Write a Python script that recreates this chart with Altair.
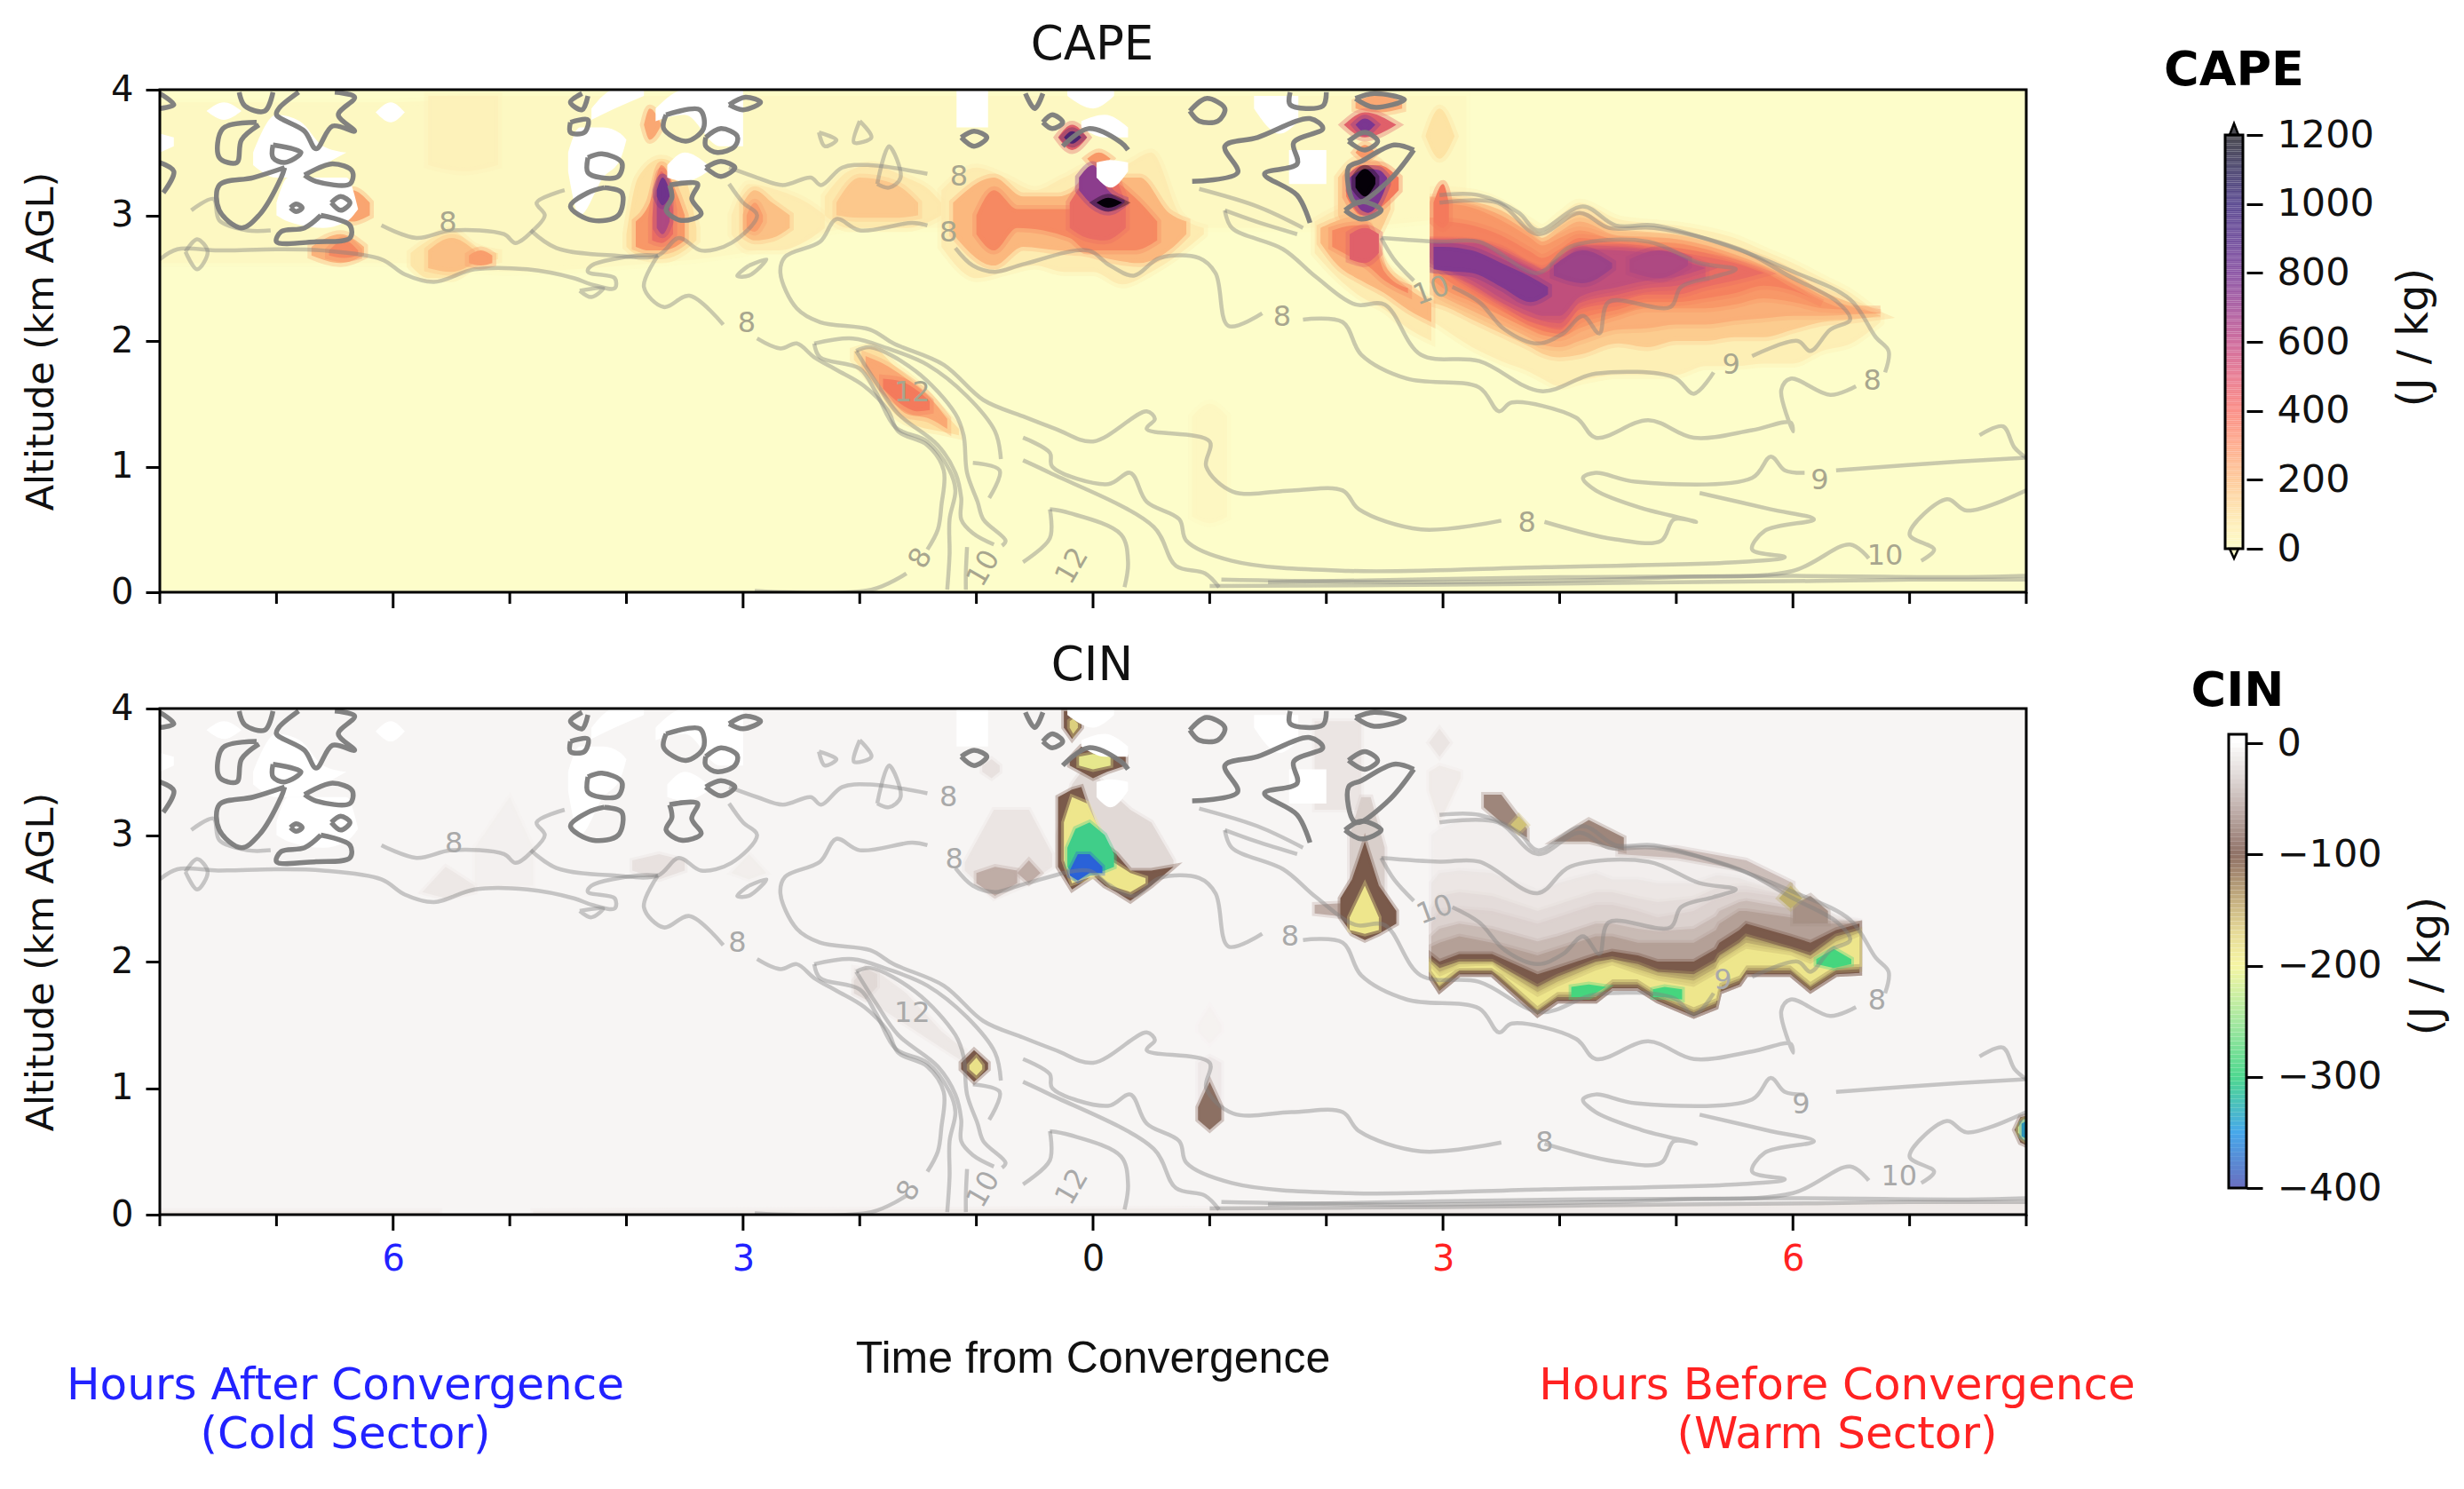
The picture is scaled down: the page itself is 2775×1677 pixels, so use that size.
import altair as alt
import numpy as np
import pandas as pd

# ---------- colour bars (stops) ----------
CAPE_STOPS = [0, 100, 200, 300, 400, 500, 600, 700, 800, 900, 1000, 1100, 1200, 1300]
CAPE_COLORS = ["#fdfdca", "#fee8b5", "#fecb9c", "#feae90", "#fb8f87", "#e97f95", "#cf6f9f",
               "#ae63a5", "#8e59a7", "#74539f", "#5f4e94", "#524c75", "#4a4a50", "#111114"]
CIN_STOPS = [-400, -350, -300, -250, -200, -170, -140, -100, -60, -30, -6, 0, 10]
CIN_COLORS = ["#6a6fc0", "#47a8ea", "#4fd88f", "#a6e8a0", "#f6f6a4", "#e6da98", "#c4ae80",
              "#8f7166", "#bfaeaa", "#e0d9d7", "#f7f5f4", "#ffffff", "#ffffff"]
# ---------- colours as they look inside the panels ----------
CAPE_FIELD = ["#fdfdca", "#fde0a0", "#fbb87e", "#f89868", "#f47a5c", "#e0606a", "#c04f7c",
              "#9c4388", "#7b3791", "#632f86", "#4a2670", "#352058", "#201040", "#050008"]
CIN_FIELD_STOPS = [-400, -350, -300, -260, -220, -195, -165, -140, -110, -78, -48, -24, -6, 0, 10]
CIN_FIELD = ["#3a3fb0", "#2a62d8", "#2fb6a8", "#45d67e", "#c8ec90", "#eee68c", "#d8cb7c", "#b2a067",
             "#7a5a4b", "#b4a097", "#dcd2cf", "#ece6e4", "#f7f5f4", "#ffffff", "#ffffff"]

# ---------- CAPE bands: (value, hours, low km, high km) ----------
MX = [2.92, 3.0, 3.25, 3.5, 3.75, 3.85, 4.0, 4.17, 4.5, 4.75, 5.0, 5.25, 5.5, 5.75, 6.0, 6.25, 6.5, 6.75]
CAPE_BANDS = [
    (18, [-8, -7, -6, -5, -4, -3, -2, -1, 0, 1, 2, 3.2],
     [2.62, 2.62, 2.62, 2.55, 2.6, 2.7, 2.9, 2.9, 2.9, 2.9, 2.9, 3.0],
     [3.9, 3.9, 3.9, 3.95, 3.95, 3.95, 3.95, 3.95, 3.95, 3.95, 3.95, 3.95]),
    (38, [-5.7, -5.4, -5.1], [3.4, 3.35, 3.4], [3.95, 3.95, 3.95]),
    (20, [0.85, 1.0, 1.15], [0.6, 0.55, 0.6], [1.4, 1.5, 1.4]),
    (50, MX,
     [2.15, 2.1, 1.95, 1.84, 1.75, 1.7, 1.64, 1.68, 1.73, 1.73, 1.73, 1.8, 1.8, 1.82, 1.82, 1.92, 1.98, 2.15],
     [3.2, 3.2, 3.18, 3.1, 2.95, 2.9, 3.0, 3.1, 2.97, 2.94, 2.92, 2.88, 2.82, 2.72, 2.62, 2.5, 2.38, 2.2]),
    (150, MX,
     [2.3, 2.28, 2.17, 2.06, 1.95, 1.9, 1.87, 1.89, 1.98, 1.95, 2.0, 2.0, 2.03, 2.03, 2.09, 2.15, 2.17, 2.2],
     [3.14, 3.14, 3.11, 3.04, 2.88, 2.82, 2.92, 3.03, 2.89, 2.87, 2.85, 2.8, 2.73, 2.65, 2.54, 2.4, 2.3, 2.2]),
    (225, MX,
     [2.39, 2.35, 2.24, 2.13, 2.02, 1.97, 1.95, 2.0, 2.09, 2.1, 2.13, 2.13, 2.16, 2.18, 2.2, 2.2, 2.21, 2.22],
     [3.12, 3.12, 3.08, 3.0, 2.85, 2.79, 2.87, 2.95, 2.84, 2.83, 2.81, 2.76, 2.69, 2.6, 2.49, 2.36, 2.27, 2.22]),
    (300, MX,
     [2.48, 2.42, 2.31, 2.2, 2.09, 2.05, 2.03, 2.1, 2.2, 2.26, 2.26, 2.26, 2.29, 2.34, 2.31, 2.26, 2.25, 2.25],
     [3.11, 3.1, 3.06, 2.96, 2.82, 2.76, 2.82, 2.88, 2.8, 2.79, 2.78, 2.73, 2.65, 2.56, 2.45, 2.32, 2.25, 2.25]),
    (375, MX[:16],
     [2.58, 2.51, 2.37, 2.24, 2.12, 2.08, 2.06, 2.17, 2.25, 2.31, 2.31, 2.34, 2.38, 2.44, 2.4, 2.3],
     [2.95, 2.95, 2.92, 2.84, 2.71, 2.66, 2.73, 2.82, 2.78, 2.76, 2.74, 2.7, 2.63, 2.55, 2.42, 2.3]),
    (450, MX[:14],
     [2.68, 2.6, 2.43, 2.29, 2.15, 2.12, 2.09, 2.25, 2.31, 2.37, 2.37, 2.43, 2.48, 2.54],
     [2.8, 2.8, 2.79, 2.73, 2.6, 2.57, 2.65, 2.76, 2.76, 2.74, 2.71, 2.67, 2.62, 2.54]),
    (525, MX[:12],
     [2.64, 2.59, 2.45, 2.31, 2.19, 2.16, 2.14, 2.3, 2.37, 2.42, 2.44, 2.5],
     [2.79, 2.79, 2.78, 2.71, 2.59, 2.55, 2.63, 2.74, 2.74, 2.72, 2.68, 2.6]),
    (600, MX[:12],
     [2.61, 2.58, 2.48, 2.34, 2.23, 2.2, 2.2, 2.35, 2.43, 2.48, 2.51, 2.58],
     [2.78, 2.78, 2.78, 2.69, 2.58, 2.54, 2.62, 2.73, 2.72, 2.7, 2.65, 2.58]),
    (780, [2.92, 3.0, 3.25, 3.5, 3.75, 3.9],
     [2.57, 2.56, 2.54, 2.43, 2.31, 2.37], [2.75, 2.75, 2.72, 2.62, 2.51, 2.43]),
    (700, [3.95, 4.2, 4.45], [2.52, 2.46, 2.58], [2.6, 2.72, 2.62]),
    (650, [4.6, 4.85, 5.1], [2.55, 2.5, 2.6], [2.65, 2.72, 2.65]),
    # lobe left of the cliff
    (60, [1.9, 2.1, 2.3, 2.5, 2.7, 2.9], [2.7, 2.5, 2.35, 2.25, 2.1, 2.0], [2.95, 3.05, 3.1, 2.62, 2.48, 2.31]),
    (200, [1.95, 2.1, 2.3, 2.5, 2.7, 2.9], [2.78, 2.6, 2.48, 2.38, 2.25, 2.15], [2.9, 2.96, 3.0, 2.6, 2.42, 2.3]),
    (350, [2.05, 2.25, 2.35, 2.5, 2.7], [2.75, 2.65, 2.6, 2.48, 2.38], [2.88, 2.92, 2.92, 2.55, 2.42]),
    (500, [2.2, 2.33, 2.45], [2.65, 2.62, 2.7], [2.85, 2.9, 2.85]),
    (150, [2.1, 2.25, 2.33, 2.42, 2.55], [3.0, 2.75, 2.7, 2.8, 3.05], [3.3, 3.44, 3.45, 3.44, 3.3]),
    (400, [2.17, 2.3, 2.36, 2.45, 2.62], [3.15, 3.0, 3.0, 3.05, 3.2], [3.3, 3.4, 3.4, 3.4, 3.3]),
    (800, [2.2, 2.3, 2.36, 2.45, 2.52], [3.2, 3.04, 3.02, 3.1, 3.25], [3.3, 3.36, 3.37, 3.36, 3.3]),
    (1300, [2.25, 2.33, 2.42], [3.22, 3.15, 3.25], [3.3, 3.37, 3.3]),
    (500, [2.15, 2.33, 2.6], [3.72, 3.62, 3.72], [3.72, 3.82, 3.72]),
    (800, [2.25, 2.33, 2.42], [3.72, 3.66, 3.72], [3.72, 3.77, 3.72]),
    (300, [2.25, 2.33, 2.42], [3.5, 3.45, 3.5], [3.5, 3.56, 3.5]),
    (250, [2.25, 2.45, 2.65], [3.85, 3.82, 3.85], [3.9, 3.96, 3.9]),
    (90, [2.85, 2.97, 3.1], [3.63, 3.45, 3.63], [3.63, 3.85, 3.63]),
    (400, [2.92, 3.0, 3.05], [2.95, 2.9, 2.95], [3.1, 3.25, 3.1]),
    # blob at convergence
    (60, [-1.3, -1, -0.75, -0.5, -0.25, 0, 0.25, 0.5, 0.75, 0.95],
     [2.75, 2.5, 2.55, 2.6, 2.55, 2.55, 2.45, 2.55, 2.7, 2.85],
     [3.2, 3.38, 3.3, 3.2, 3.3, 3.4, 3.4, 3.5, 3.0, 2.9]),
    (200, [-1.2, -0.85, -0.6, -0.3, -0.05, 0.15, 0.4, 0.65, 0.8],
     [2.85, 2.6, 2.75, 2.72, 2.7, 2.65, 2.62, 2.72, 2.85],
     [3.1, 3.3, 3.15, 3.15, 3.25, 3.3, 3.3, 3.02, 2.95]),
    (350, [-1, -0.85, -0.65, -0.2, -0.05, 0.1, 0.35, 0.55],
     [2.85, 2.72, 2.9, 2.82, 2.72, 2.72, 2.72, 2.8],
     [3.0, 3.2, 3.05, 3.05, 3.2, 3.3, 3.15, 2.95]),
    (450, [-0.2, -0.05, 0.1, 0.28], [2.9, 2.82, 2.8, 2.9], [3.1, 3.3, 3.4, 3.1]),
    (750, [-0.12, 0, 0.13, 0.27], [3.2, 3.08, 3.03, 3.1], [3.3, 3.4, 3.2, 3.12]),
    (1300, [0.03, 0.13, 0.25], [3.1, 3.06, 3.1], [3.1, 3.14, 3.1]),
    (500, [-0.3, -0.18, -0.05], [3.62, 3.52, 3.62], [3.62, 3.72, 3.62]),
    (1000, [-0.25, -0.18, -0.1], [3.62, 3.57, 3.62], [3.62, 3.67, 3.62]),
    (300, [-0.05, 0.05, 0.15], [3.45, 3.38, 3.45], [3.45, 3.5, 3.45]),
    # column near 3.7 h after
    (100, [-4.0, -3.9, -3.7, -3.5, -3.4], [2.75, 2.68, 2.65, 2.72, 2.8], [2.85, 3.3, 3.45, 3.3, 2.9]),
    (300, [-3.92, -3.8, -3.7, -3.58, -3.5], [2.75, 2.72, 2.72, 2.75, 2.8], [2.95, 3.1, 3.4, 3.2, 3.0]),
    (450, [-3.78, -3.7, -3.6], [2.8, 2.78, 2.85], [2.98, 3.35, 3.05]),
    (650, [-3.74, -3.69, -3.63], [2.9, 2.85, 2.95], [3.1, 3.3, 3.1]),
    (850, [-3.74, -3.69, -3.63], [3.15, 3.08, 3.15], [3.2, 3.3, 3.2]),
    (250, [-3.85, -3.8, -3.7], [3.72, 3.6, 3.72], [3.72, 3.85, 3.72]),
    # weaker patches
    (60, [-3.1, -2.95, -2.7, -2.45, -2.3], [2.85, 2.72, 2.72, 2.8, 2.9], [3.0, 3.25, 3.2, 3.1, 3.0]),
    (180, [-3.0, -2.9, -2.75, -2.6], [2.85, 2.8, 2.82, 2.9], [3.1, 3.2, 3.1, 3.0]),
    (280, [-2.97, -2.9, -2.83], [2.9, 2.87, 2.95], [3.0, 3.1, 3.0]),
    (70, [-2.3, -2.1, -1.9, -1.6, -1.4, -1.3], [3.0, 2.9, 2.9, 2.9, 2.95, 3.0], [3.15, 3.35, 3.4, 3.3, 3.2, 3.1]),
    (160, [-2.2, -2, -1.7, -1.5], [3.0, 2.98, 2.98, 3.0], [3.1, 3.3, 3.25, 3.1]),
    (80, [-5.85, -5.7, -5.5, -5.3, -5.1], [2.6, 2.5, 2.5, 2.6, 2.65], [2.7, 2.8, 2.88, 2.75, 2.7]),
    (180, [-5.7, -5.5, -5.3], [2.58, 2.55, 2.62], [2.72, 2.82, 2.72]),
    (280, [-5.35, -5.25, -5.15], [2.62, 2.6, 2.62], [2.68, 2.72, 2.68]),
    (220, [-6.7, -6.45, -6.25], [2.68, 2.62, 2.68], [2.75, 2.85, 2.75]),
    (350, [-6.55, -6.42, -6.3], [2.68, 2.66, 2.68], [2.72, 2.8, 2.72]),
    (260, [-6.45, -6.35, -6.2], [3.0, 2.95, 3.0], [3.1, 3.2, 3.1]),
    # ridge
    (100, [-2.05, -1.9, -1.7, -1.5, -1.3, -1.15], [1.85, 1.68, 1.42, 1.32, 1.28, 1.25], [1.92, 1.95, 1.8, 1.65, 1.45, 1.3]),
    (250, [-1.95, -1.8, -1.6, -1.4, -1.25], [1.8, 1.62, 1.42, 1.38, 1.3], [1.88, 1.82, 1.7, 1.55, 1.38]),
    (400, [-1.8, -1.65, -1.5, -1.4], [1.62, 1.5, 1.44, 1.45], [1.7, 1.68, 1.6, 1.52]),
]

# ---------- CIN bands ----------
BX = [2.9, 2.97, 3.14, 3.42, 3.81, 3.98, 4.31, 4.45, 4.67, 4.84, 5.15, 5.34, 5.37, 5.54, 5.6, 5.98, 6.15, 6.37, 6.57]
BL = [1.87, 1.77, 1.9, 1.9, 1.58, 1.69, 1.69, 1.79, 1.79, 1.69, 1.57, 1.64, 1.76, 1.82, 1.9, 1.9, 1.77, 1.9, 1.91]
BL2 = [1.9, 1.8, 1.93, 1.93, 1.61, 1.72, 1.72, 1.82, 1.82, 1.72, 1.6, 1.67, 1.79, 1.85, 1.93, 1.93, 1.8, 1.93, 1.94]
BL3 = [1.93, 1.84, 1.96, 1.97, 1.65, 1.76, 1.76, 1.86, 1.86, 1.76, 1.64, 1.71, 1.83, 1.89, 1.97, 1.97, 1.84, 1.97, 1.98]
CIN_BANDS = [
    (-14, BX, BL, [3.0, 3.05, 3.12, 3.12, 2.85, 2.98, 3.0, 2.9, 2.9, 2.9, 2.86, 2.82, 2.82, 2.78, 2.75, 2.58, 2.48, 2.37, 2.32]),
    (-24, BX, BL, [2.62, 2.7, 2.72, 2.7, 2.55, 2.62, 2.7, 2.65, 2.65, 2.62, 2.62, 2.68, 2.68, 2.66, 2.64, 2.54, 2.45, 2.35, 2.32]),
    (-36, BX, BL, [2.42, 2.52, 2.55, 2.52, 2.4, 2.45, 2.55, 2.55, 2.5, 2.47, 2.5, 2.58, 2.58, 2.6, 2.6, 2.52, 2.44, 2.34, 2.31]),
    (-48, BX, BL, [2.3, 2.4, 2.42, 2.4, 2.3, 2.35, 2.45, 2.45, 2.4, 2.35, 2.4, 2.5, 2.5, 2.55, 2.55, 2.5, 2.42, 2.32, 2.3]),
    (-62, BX, BL, [2.2, 2.26, 2.3, 2.26, 2.16, 2.2, 2.3, 2.3, 2.26, 2.24, 2.26, 2.36, 2.4, 2.47, 2.48, 2.42, 2.36, 2.31, 2.3]),
    (-78, BX, BL, [2.12, 2.15, 2.2, 2.15, 2.05, 2.1, 2.2, 2.2, 2.15, 2.15, 2.15, 2.25, 2.3, 2.4, 2.4, 2.35, 2.3, 2.3, 2.3]),
    (-110, BX, BL, [2.05, 2.0, 2.06, 2.06, 1.9, 1.95, 2.05, 2.08, 2.05, 2.0, 2.0, 2.1, 2.15, 2.25, 2.3, 2.2, 2.15, 2.25, 2.3]),
    (-140, BX, BL2, [2.0, 1.95, 2.0, 2.0, 1.8, 1.88, 2.0, 2.02, 1.98, 1.92, 1.9, 2.0, 2.05, 2.15, 2.2, 2.1, 2.05, 2.2, 2.25]),
    (-165, BX, BL3, [1.98, 1.92, 1.98, 1.98, 1.76, 1.84, 1.97, 2.0, 1.94, 1.89, 1.85, 1.95, 2.01, 2.11, 2.15, 2.08, 2.02, 2.16, 2.23]),
    (-195, BX, BL3, [1.95, 1.88, 1.95, 1.95, 1.72, 1.8, 1.93, 1.97, 1.9, 1.85, 1.8, 1.9, 1.97, 2.07, 2.1, 2.05, 1.98, 2.12, 2.2]),
    (-260, [4.1, 4.25, 4.4], [1.72, 1.72, 1.8], [1.8, 1.82, 1.8]),
    (-260, [4.8, 4.9, 5.05], [1.72, 1.72, 1.7], [1.78, 1.8, 1.78]),
    (-260, [6.2, 6.35, 6.5], [1.98, 1.95, 1.98], [2.02, 2.1, 2.02]),
    (-90, [3.35, 3.5, 3.72], [3.22, 3.1, 2.98], [3.32, 3.32, 3.05]),
    (-160, [3.58, 3.65, 3.72], [3.08, 3.02, 3.08], [3.08, 3.15, 3.08]),
    (-90, [3.95, 4.25, 4.55], [2.95, 2.95, 2.88], [2.95, 3.12, 2.98]),
    (-60, [4.5, 5, 5.6, 6], [2.85, 2.82, 2.72, 2.5], [2.9, 2.9, 2.8, 2.62]),
    (-150, [5.88, 5.98, 6.08], [2.5, 2.42, 2.5], [2.5, 2.6, 2.5]),
    (-85, [6, 6.15, 6.3], [2.3, 2.3, 2.3], [2.45, 2.52, 2.4]),
    (-50, [2.2, 2.3, 2.38, 2.5], [2.3, 2.2, 2.2, 2.3], [3.0, 3.3, 3.3, 2.9]),
    (-110, [2.12, 2.22, 2.33, 2.45, 2.6], [2.35, 2.22, 2.17, 2.22, 2.3], [2.5, 2.65, 2.95, 2.6, 2.4]),
    (-195, [2.2, 2.33, 2.45], [2.25, 2.22, 2.25], [2.35, 2.6, 2.35]),
    (-70, [1.9, 2.1, 2.25], [2.38, 2.36, 2.36], [2.45, 2.46, 2.46]),
    (-40, [-0.3, -0.18, -0.1, 0, 0.1, 0.2, 0.32, 0.5, 0.69],
     [2.75, 2.57, 2.62, 2.68, 2.6, 2.55, 2.48, 2.6, 2.75], [3.0, 3.4, 3.5, 3.5, 3.4, 3.3, 3.2, 3.1, 2.8]),
    (-110, [-0.3, -0.18, -0.1, 0, 0.1, 0.2, 0.32, 0.5, 0.69],
     [2.75, 2.57, 2.62, 2.68, 2.6, 2.55, 2.48, 2.6, 2.75], [3.3, 3.36, 3.38, 3.1, 2.92, 2.85, 2.72, 2.72, 2.75]),
    (-195, [-0.25, -0.18, -0.05, 0.05, 0.15, 0.32, 0.45], [2.8, 2.62, 2.66, 2.68, 2.6, 2.55, 2.62], [3.1, 3.3, 3.25, 3.05, 2.8, 2.7, 2.66]),
    (-270, [-0.22, -0.15, -0.03, 0.1, 0.18], [2.75, 2.66, 2.7, 2.72, 2.75], [2.9, 3.05, 3.1, 3.0, 2.85]),
    (-350, [-0.2, -0.13, -0.03, 0.08], [2.68, 2.64, 2.7, 2.7], [2.72, 2.85, 2.85, 2.75]),
    (-110, [-0.2, -0.1, 0, 0.12, 0.28], [3.55, 3.5, 3.45, 3.5, 3.55], [3.6, 3.7, 3.72, 3.7, 3.62]),
    (-200, [-0.12, 0, 0.15], [3.55, 3.52, 3.55], [3.62, 3.64, 3.62]),
    (-110, [-0.25, -0.18, -0.1], [3.85, 3.76, 3.85], [3.98, 3.98, 3.9]),
    (-170, [-0.2, -0.17, -0.13], [3.85, 3.8, 3.85], [3.9, 3.92, 3.88]),
    (-25, [-1.1, -0.85, -0.55, -0.35], [2.72, 2.5, 2.62, 2.75], [2.78, 3.2, 3.2, 2.85]),
    (-70, [-1, -0.84, -0.65], [2.62, 2.52, 2.62], [2.7, 2.75, 2.72]),
    (-70, [-0.65, -0.55, -0.45], [2.7, 2.62, 2.7], [2.7, 2.8, 2.7]),
    (-110, [-1.13, -1.02, -0.9], [1.15, 1.05, 1.15], [1.2, 1.3, 1.2]),
    (-190, [-1.06, -1.0, -0.95], [1.15, 1.1, 1.15], [1.18, 1.24, 1.18]),
    (-22, [-2.05, -1.85, -1.6, -1.3, -1.1], [1.8, 1.65, 1.5, 1.32, 1.2], [1.95, 1.92, 1.75, 1.45, 1.3]),
    (-40, [-2.05, -1.95, -1.85], [1.75, 1.7, 1.8], [1.85, 1.95, 1.9]),
    (-20, [0.9, 1, 1.1], [0.75, 0.67, 0.75], [1.2, 1.25, 1.2]),
    (-100, [0.9, 1, 1.1], [0.75, 0.67, 0.75], [0.85, 1.05, 0.85]),
    (-10, [0.9, 1, 1.1], [1.45, 1.35, 1.45], [1.5, 1.65, 1.5]),
    (-110, [7.9, 7.95, 8], [0.67, 0.57, 0.55], [0.67, 0.77, 0.78]),
    (-210, [7.93, 7.97, 8], [0.65, 0.6, 0.58], [0.69, 0.75, 0.76]),
    (-320, [7.96, 8], [0.62, 0.6], [0.72, 0.74]),
    (-30, [-3.95, -3.72, -3.5], [2.72, 2.65, 2.72], [2.8, 2.85, 2.8]),
    (-22, [-5.75, -5.55, -5.3], [2.55, 2.5, 2.55], [2.55, 2.75, 2.6]),
    (-15, [-3.1, -2.95, -2.8], [2.7, 2.65, 2.7], [2.7, 2.85, 2.7]),
    (-12, [-5.3, -5, -4.8], [2.6, 2.6, 2.6], [2.9, 3.3, 2.9]),
    (-30, [-0.95, -0.87, -0.8], [3.5, 3.45, 3.5], [3.55, 3.6, 3.55]),
    (-25, [1.9, 2.15, 2.3], [3.2, 3.2, 3.2], [3.9, 3.9, 3.9]),
    (-25, [2.88, 2.97, 3.06], [3.73, 3.62, 3.73], [3.73, 3.84, 3.73]),
    (-18, [2.88, 2.97, 3.15], [3.35, 3.1, 3.45], [3.5, 3.55, 3.5]),
    (-18, [-8, -5.6], [0, 0], [0.03, 0.03]),
    (-18, [-4.8, 1, 8], [0, 0, 0], [0.03, 0.05, 0.1]),
]

# ---------- missing-data patches (white in both panels) ----------
WHITE_BANDS = [
    ([-7.2, -7, -6.8, -6.6, -6.4], [3.4, 3.3, 3.3, 3.4, 3.5], [3.5, 3.8, 3.75, 3.55, 3.5]),
    ([-7, -6.9, -6.6, -6.4, -6.3], [3.0, 2.95, 2.9, 2.95, 3.05], [3.1, 3.3, 3.3, 3.3, 3.05]),
    ([-7.6, -7.45, -7.3], [3.83, 3.76, 3.83], [3.83, 3.9, 3.83]),
    ([-8, -7.88], [3.5, 3.55], [3.65, 3.62]),
    ([-6.15, -6.02, -5.9], [3.82, 3.74, 3.82], [3.82, 3.9, 3.82]),
    ([-4.5, -4.4, -4.2, -4.05, -4.0], [3.35, 3.0, 3.3, 3.45, 3.6], [3.5, 3.7, 3.7, 3.65, 3.6]),
    ([-4.3, -4.1, -3.85], [3.76, 3.85, 3.95], [3.85, 4, 4]),
    ([-3.75, -3.5, -3.2, -3.0], [3.75, 3.8, 3.55, 3.55], [3.85, 4, 4, 4]),
    ([-3.65, -3.5, -3.3], [3.3, 3.27, 3.35], [3.4, 3.5, 3.4]),
    ([-1.17, -0.9], [3.7, 3.7], [4, 4]),
    ([-0.22, 0, 0.18], [3.95, 3.85, 3.95], [4, 4, 4]),
    ([-0.1, 0.1, 0.3], [3.7, 3.62, 3.62], [3.75, 3.8, 3.7]),
    ([0.03, 0.15, 0.3], [3.3, 3.22, 3.35], [3.42, 3.44, 3.42]),
    ([1.38, 1.6, 1.76], [3.85, 3.65, 3.75], [3.95, 3.95, 3.95]),
    ([1.68, 2.0], [3.25, 3.25], [3.52, 3.52]),
]

# ---------- contour lines (hours, km) ----------
LIGHT_LINES = [
    [(-8, 2.65), (-7.85, 2.73), (-7.5, 2.72), (-7, 2.73), (-6.6, 2.72), (-6.1, 2.65), (-5.9, 2.53), (-5.65, 2.47),
     (-5.3, 2.57), (-4.85, 2.57), (-4.45, 2.5), (-4.3, 2.45), (-4.1, 2.42), (-4.1, 2.5), (-4.33, 2.55), (-4.3, 2.6),
     (-3.9, 2.68), (-3.73, 2.68)],
    [(-6.1, 2.92), (-5.8, 2.82), (-5.5, 2.88), (-5.05, 2.85), (-4.95, 2.78), (-4.8, 2.88), (-4.7, 3.0), (-4.77, 3.1), (-4.53, 3.2)],
    [(-4.82, 2.88), (-4.6, 2.74), (-4.1, 2.68), (-3.73, 2.68), (-3.55, 2.82), (-3.36, 2.72), (-3.1, 2.78), (-2.88, 3.0), (-3.0, 3.1), (-3.12, 3.25)],
    [(-3.12, 3.38), (-2.88, 3.3), (-2.66, 3.24), (-2.42, 3.3), (-2.33, 3.24), (-2.15, 3.38), (-1.91, 3.4), (-1.42, 3.33)],
    [(-3.73, 2.68), (-3.85, 2.43), (-3.68, 2.27), (-3.46, 2.36), (-3.17, 2.13)],
    [(-2.88, 2.02), (-2.68, 1.94), (-2.54, 1.98), (-2.39, 1.87), (-2.2, 1.77), (-1.96, 1.64), (-1.76, 1.45), (-1.67, 1.28),
     (-1.42, 1.17), (-1.28, 0.97), (-1.3, 0.69), (-1.33, 0.5), (-1.42, 0.34)],
    [(-1.6, 0.15), (-1.9, 0.02), (-2.9, 0.01)],
    [(-1.42, 2.92), (-1.55, 2.94), (-2.0, 2.88), (-2.2, 2.97), (-2.34, 2.79), (-2.64, 2.67), (-2.68, 2.54), (-2.54, 2.26),
     (-2.34, 2.15), (-1.91, 2.09), (-1.71, 1.98), (-1.28, 1.81), (-0.94, 1.53), (-0.6, 1.4), (-0.32, 1.3), (0, 1.2),
     (0.46, 1.44), (0.53, 1.38), (0.46, 1.3), (1.0, 1.2), (0.97, 1.0), (1.2, 0.8), (1.7, 0.81), (2.14, 0.81), (2.28, 0.66),
     (2.81, 0.5), (3.5, 0.57)],
    [(3.87, 0.56), (4.48, 0.42), (4.87, 0.41), (4.98, 0.58), (5.17, 0.56), (4.7, 0.67), (4.31, 0.81), (4.2, 0.91), (4.31, 0.95),
     (4.65, 0.88), (5.65, 0.91), (5.81, 1.08), (5.93, 0.97), (6.1, 0.95)],
    [(6.37, 0.97), (7.43, 1.04), (8, 1.07)],
    [(-1.18, 2.74), (-1.03, 2.6), (-0.84, 2.55), (-0.6, 2.61), (-0.04, 2.72), (0.13, 2.61), (0.35, 2.52), (0.57, 2.66),
     (0.91, 2.66), (1.05, 2.54), (1.16, 2.12), (1.45, 2.22)],
    [(1.8, 2.17), (2.14, 2.15), (2.3, 1.89), (2.69, 1.7), (3.31, 1.63), (3.48, 1.44), (3.59, 1.51), (4.14, 1.39), (4.31, 1.23),
     (4.76, 1.37), (5.15, 1.23), (5.65, 1.29), (5.98, 1.35), (6.0, 1.28), (5.9, 1.61), (5.98, 1.7), (6.32, 1.57), (6.54, 1.64)],
    [(1.13, 3.04), (1.19, 2.9), (1.63, 2.73), (1.91, 2.51), (2.25, 2.29), (2.5, 2.29), (2.81, 1.89), (3.31, 1.84), (3.84, 1.6),
     (4.31, 1.74), (4.98, 1.71), (5.15, 1.58), (5.32, 1.75)],
    [(5.65, 1.88), (6.04, 2.0), (6.15, 1.92), (6.32, 2.09), (6.49, 2.17), (6.38, 2.31), (5.98, 2.51), (5.54, 2.73), (4.81, 2.9),
     (4.42, 2.9), (4.17, 3.02), (3.81, 2.85), (3.47, 3.1), (2.97, 3.1)],
    [(2.97, 3.16), (3.31, 3.16), (3.65, 3.02), (3.81, 2.88), (4.2, 3.07), (4.48, 2.92), (4.81, 2.92), (5.43, 2.76), (5.98, 2.56),
     (6.49, 2.33), (6.71, 2.03), (6.82, 1.92), (6.79, 1.75)],
    [(2.47, 2.82), (2.97, 2.79), (3.31, 2.79), (3.81, 2.54), (4.09, 2.75), (4.76, 2.79), (5.2, 2.62), (5.51, 2.57), (5.32, 2.51),
     (5.04, 2.43), (4.95, 2.27), (4.42, 2.31), (4.34, 2.06), (4.2, 2.2), (4.03, 2.06), (3.81, 1.98), (3.53, 2.09), (3.31, 2.31),
     (3.08, 2.43)],
    [(2.75, 2.48), (2.58, 2.65), (2.47, 2.82)],
    [(-2.39, 1.98), (-2.06, 2.02), (-1.76, 1.94), (-1.42, 1.81), (-1.08, 1.56), (-0.84, 1.28), (-0.79, 1.06)],
    [(-1.03, 1.03), (-0.8, 0.97), (-0.89, 0.75)],
    [(-2.39, 1.98), (-2.34, 1.87), (-2.0, 1.78), (-1.86, 1.59), (-1.69, 1.31), (-1.42, 1.2), (-1.23, 0.97), (-1.18, 0.81),
     (-1.23, 0.58), (-1.23, 0.3), (-1.25, 0.02)],
    [(-2.03, 1.92), (-1.91, 1.95), (-1.52, 1.76), (-1.18, 1.42), (-1.11, 1.25), (-1.08, 0.95), (-0.99, 0.72), (-0.94, 0.58),
     (-0.75, 0.41), (-0.78, 0.37)],
    [(-1.08, 0.36), (-1.09, 0.16), (-1.09, 0.02)],
    [(-2.03, 1.92), (-1.86, 1.67), (-1.67, 1.42), (-1.33, 1.17), (-1.18, 0.95), (-1.13, 0.75), (-1.13, 0.58), (-1.03, 0.47), (-0.85, 0.38)],
    [(-0.6, 1.23), (-0.37, 1.11), (-0.35, 1.0), (0.13, 0.86), (0.32, 0.95), (0.46, 0.72), (0.74, 0.58), (0.8, 0.41), (1.19, 0.25),
     (2.19, 0.17), (3.87, 0.2), (5.54, 0.24), (5.93, 0.28), (5.65, 0.34), (5.76, 0.49), (6.18, 0.58), (5.81, 0.66), (5.2, 0.79)],
    [(-0.37, 0.66), (-0.2, 0.63), (0.24, 0.46), (0.3, 0.24), (0.27, 0.04)],
    [(-0.37, 0.66), (-0.37, 0.43), (-0.6, 0.24)],
    [(-0.6, 1.05), (-0.37, 0.95), (0.52, 0.52), (0.71, 0.21), (0.96, 0.15), (1.08, 0.04)],
    [(1.1, 0.1), (3, 0.08), (5, 0.12), (6, 0.17), (6.49, 0.38), (6.65, 0.27)],
    [(7.1, 0.25), (7.21, 0.34), (7, 0.46), (7.32, 0.74), (7.49, 0.65), (8, 0.81)],
    [(1, 0.05), (3, 0.06), (5, 0.08), (6.2, 0.09), (7, 0.1), (8, 0.1)],
    [(1.5, 0.08), (4, 0.12), (6, 0.13), (7.5, 0.12), (8, 0.13)],
    [(7.6, 1.25), (7.8, 1.32), (7.9, 1.15), (8, 1.07)],
    [(-7.73, 3.04), (-7.54, 3.13), (-7.49, 2.96), (-7.25, 2.88), (-7.05, 2.88)],
    [(-7.78, 2.71), (-7.68, 2.81), (-7.59, 2.71), (-7.68, 2.57), (-7.78, 2.71)],
    [(0.91, 3.21), (1.41, 3.07), (1.8, 2.9)],
    [(1.13, 3.04), (1.4, 2.95), (1.75, 2.85)],
    [(-2.35, 3.66), (-2.2, 3.6), (-2.3, 3.55), (-2.35, 3.66)],
    [(-2.0, 3.75), (-1.9, 3.62), (-2.05, 3.58), (-2.0, 3.75)],
    [(-1.85, 3.25), (-1.75, 3.55), (-1.65, 3.3), (-1.75, 3.22), (-1.85, 3.25)],
    [(-4.4, 2.4), (-4.2, 2.42), (-4.3, 2.35), (-4.4, 2.4)],
    [(-2.95, 2.6), (-2.8, 2.65), (-2.95, 2.52), (-3.05, 2.52), (-2.95, 2.6)],
]
DARK_LINES = [
    [(-7.32, 3.98), (-7.27, 3.87), (-7.1, 3.83), (-7.03, 3.98)],
    [(-6.81, 3.98), (-6.98, 3.85), (-7, 3.8), (-6.76, 3.67), (-6.66, 3.53), (-6.52, 3.71), (-6.33, 3.67), (-6.47, 3.8), (-6.33, 3.94), (-6.5, 3.98)],
    [(-7.17, 3.74), (-7.46, 3.69), (-7.49, 3.46), (-7.34, 3.42), (-7.3, 3.6), (-7.15, 3.72)],
    [(-7.03, 3.56), (-6.79, 3.5), (-6.93, 3.42), (-7.03, 3.46), (-7.03, 3.56)],
    [(-6.93, 3.38), (-7.2, 3.3), (-7.49, 3.24), (-7.49, 3.04), (-7.3, 2.9), (-7.15, 3.0), (-6.96, 3.3), (-6.93, 3.38)],
    [(-6.76, 3.32), (-6.52, 3.41), (-6.35, 3.35), (-6.37, 3.25), (-6.66, 3.27), (-6.76, 3.32)],
    [(-6.62, 3.0), (-6.37, 2.92), (-6.37, 2.82), (-6.66, 2.79), (-7, 2.79), (-6.96, 2.87), (-6.76, 2.9), (-6.62, 3.0)],
    [(-6.88, 3.06), (-6.83, 3.09), (-6.78, 3.06), (-6.83, 3.03), (-6.88, 3.06)],
    [(-6.53, 3.1), (-6.45, 3.15), (-6.37, 3.1), (-6.45, 3.04), (-6.53, 3.1)],
    [(-8, 3.97), (-7.88, 3.88), (-8, 3.85)],
    [(-8, 3.42), (-7.88, 3.35), (-7.97, 3.18)],
    [(-4.38, 3.97), (-4.48, 3.9), (-4.38, 3.84), (-4.33, 3.95)],
    [(-4.48, 3.74), (-4.33, 3.76), (-4.36, 3.66), (-4.48, 3.66), (-4.48, 3.74)],
    [(-4.33, 3.46), (-4.21, 3.49), (-4.04, 3.42), (-4.07, 3.31), (-4.22, 3.3), (-4.33, 3.34), (-4.33, 3.46)],
    [(-4.19, 3.22), (-4.04, 3.18), (-4.07, 3.0), (-4.29, 2.96), (-4.48, 3.07), (-4.33, 3.18), (-4.19, 3.22)],
    [(-3.66, 3.8), (-3.37, 3.84), (-3.34, 3.69), (-3.49, 3.59), (-3.68, 3.69), (-3.66, 3.8)],
    [(-3.32, 3.62), (-3.19, 3.69), (-3.05, 3.63), (-3.07, 3.55), (-3.22, 3.5), (-3.32, 3.55), (-3.32, 3.62)],
    [(-3.12, 3.88), (-2.98, 3.94), (-2.85, 3.9), (-3.0, 3.84), (-3.12, 3.88)],
    [(-3.32, 3.38), (-3.19, 3.43), (-3.07, 3.38), (-3.19, 3.31), (-3.32, 3.38)],
    [(-3.63, 3.24), (-3.39, 3.25), (-3.44, 3.13), (-3.36, 3.01), (-3.53, 2.96), (-3.66, 3.04), (-3.61, 3.14), (-3.63, 3.24)],
    [(-1.13, 3.62), (-1.02, 3.67), (-0.91, 3.62), (-1.02, 3.55), (-1.13, 3.62)],
    [(0.83, 3.83), (0.97, 3.93), (1.13, 3.85), (1.07, 3.75), (0.91, 3.75), (0.83, 3.83)],
    [(1.69, 3.98), (1.69, 3.88), (1.97, 3.87), (2.0, 3.98)],
    [(0.85, 3.27), (1.24, 3.34), (1.13, 3.55), (1.41, 3.62), (1.86, 3.77), (1.97, 3.69), (1.72, 3.58), (1.75, 3.41), (1.47, 3.33), (1.75, 3.16), (1.86, 2.94)],
    [(2.75, 3.52), (2.58, 3.56), (2.3, 3.43), (2.19, 3.38), (2.25, 3.1), (2.53, 3.27), (2.75, 3.52)],
    [(2.19, 3.59), (2.33, 3.66), (2.44, 3.59), (2.33, 3.52), (2.19, 3.59)],
    [(2.16, 3.04), (2.3, 3.11), (2.47, 3.04), (2.3, 2.97), (2.16, 3.04)],
    [(2.25, 3.93), (2.41, 3.97), (2.67, 3.92), (2.41, 3.86), (2.25, 3.93)],
    [(-0.43, 3.74), (-0.35, 3.8), (-0.26, 3.74), (-0.35, 3.69), (-0.43, 3.74)],
    [(-0.26, 3.55), (-0.04, 3.69), (0.24, 3.58), (0.3, 3.52)],
    [(-0.58, 3.97), (-0.5, 3.85), (-0.43, 3.97)],
]

CAPE_LABELS = [("8", -5.53, 2.94, 0), ("8", -1.15, 3.31, 0), ("8", -1.24, 2.86, 0), ("8", -2.97, 2.14, 0), ("8", 1.62, 2.19, 0),
               ("10", 2.9, 2.4, 340), ("9", 5.47, 1.81, 0), ("8", 6.68, 1.68, 0), ("12", -1.55, 1.59, 0), ("8", -1.48, 0.27, 300),
               ("10", -0.94, 0.19, 300), ("12", -0.18, 0.21, 300), ("8", 3.72, 0.55, 0), ("9", 6.23, 0.89, 0), ("10", 6.79, 0.29, 0)]
CIN_LABELS = [("8", -5.48, 2.93, 0), ("8", -1.24, 3.3, 0), ("8", -1.19, 2.81, 0), ("8", -3.05, 2.15, 0), ("8", 1.69, 2.2, 0),
              ("10", 2.93, 2.41, 340), ("9", 5.4, 1.85, 0), ("8", 6.72, 1.69, 0), ("12", -1.55, 1.59, 0), ("8", -1.58, 0.19, 300),
              ("10", -0.94, 0.2, 300), ("12", -0.18, 0.22, 300), ("8", 3.87, 0.57, 0), ("9", 6.07, 0.87, 0), ("10", 6.91, 0.3, 0)]

MINOR_HOURS = [-8, -7, -5, -4, -2, -1, 1, 2, 4, 5, 7, 8]
MAJOR_HOURS = [-6, -3, 0, 3, 6]

W, H1, H2 = 2102, 566, 570
FONT = "DejaVu Sans"


def band_table(bands):
    rows = []
    for i, (v, xs, lo, hi) in enumerate(sorted(bands, key=lambda b: abs(b[0]))):
        for x, l, h in zip(xs, lo, hi):
            rows.append({"band": i, "v": v, "x": x, "lo": l, "hi": h})
    return pd.DataFrame(rows)


def white_table():
    rows = []
    for i, (xs, lo, hi) in enumerate(WHITE_BANDS):
        for x, l, h in zip(xs, lo, hi):
            rows.append({"band": i, "x": x, "lo": l, "hi": h})
    return pd.DataFrame(rows)


def line_table(lines):
    rows = []
    for i, pts in enumerate(lines):
        for j, (x, y) in enumerate(pts):
            rows.append({"id": i, "i": j, "x": x, "y": y})
    return pd.DataFrame(rows)


XS = alt.Scale(domain=[-8, 8], nice=False, zero=False)
YS = alt.Scale(domain=[0, 4], nice=False, zero=False)


def panel(bands, stops, colors, bg, labels, title, title_y, H, show_x, label_color, interp, soft):
    cs = alt.Scale(domain=stops, range=colors, interpolate="rgb", clamp=True)
    col = alt.Color("v:Q", scale=cs, legend=None)
    lc = alt.expr("datum.value < 0 ? '#2222ff' : datum.value > 0 ? '#ff2222' : '#111111'")
    xaxis = alt.Axis(values=MAJOR_HOURS, ticks=False, domain=False, grid=False, labels=show_x, title=None,
                     labelFont=FONT, labelFontSize=40, labelPadding=30, labelColor=lc,
                     labelExpr="abs(datum.value)")
    yaxis = alt.Axis(values=[0, 1, 2, 3, 4], tickSize=16, tickWidth=3, tickColor="black", domain=False, grid=False,
                     labelFont=FONT, labelFontSize=40, labelPadding=14, labelColor="#111",
                     title="Altitude (km AGL)", titleFont=FONT, titleFontSize=43, titleFontWeight="normal",
                     titleColor="#111", titlePadding=56)

    def x_(f="x"):
        return alt.X(f"{f}:Q", scale=XS, axis=xaxis)

    def y_(f="y"):
        return alt.Y(f"{f}:Q", scale=YS, axis=yaxis)

    frame = pd.DataFrame({"x0": [-8], "x1": [8], "y0": [0], "y1": [4], "v": [bg]})

    base = alt.Chart(frame).mark_rect().encode(
        x=x_("x0"), x2="x1:Q", y=y_("y0"), y2="y1:Q", color=col)
    areas = alt.Chart(band_table(bands)).mark_area(
        interpolate=interp, clip=True, opacity=1).encode(
        x=x_(), y=y_("lo"), y2="hi:Q", color=col, detail="band:N",
        stroke=alt.Stroke("v:Q", scale=cs, legend=None),
        strokeWidth=alt.value(soft), strokeOpacity=alt.value(0.35))
    whites = alt.Chart(white_table()).mark_area(clip=True, interpolate="monotone", color="white", opacity=1).encode(
        x=x_(), y=y_("lo"), y2="hi:Q", detail="band:N")
    light = alt.Chart(line_table(LIGHT_LINES)).mark_line(
        clip=True, color="#808080", opacity=0.42, strokeWidth=4.5, interpolate="catmull-rom").encode(
        x=x_(), y=y_(), detail="id:N", order="i:Q")
    dark = alt.Chart(line_table(DARK_LINES)).mark_line(
        clip=True, color="#7b7b7b", opacity=0.95, strokeWidth=5.5, interpolate="catmull-rom").encode(
        x=x_(), y=y_(), detail="id:N", order="i:Q")
    ltab = pd.DataFrame(labels, columns=["t", "x", "y", "a"])
    text = alt.Chart(ltab).mark_text(font=FONT, fontSize=32, color=label_color, baseline="middle", align="center").encode(
        x=x_(), y=y_(), text="t:N", angle=alt.Angle("a:Q", scale=None))
    box = alt.Chart(frame).mark_rect(fillOpacity=0, stroke="black", strokeWidth=3).encode(
        x=x_("x0"), x2="x1:Q", y=y_("y0"), y2="y1:Q")
    t1 = alt.Chart(pd.DataFrame({"x": MINOR_HOURS})).mark_rule(color="black", strokeWidth=3).encode(
        x=x_(), y=alt.value(H), y2=alt.value(H + 13))
    t2 = alt.Chart(pd.DataFrame({"x": MAJOR_HOURS})).mark_rule(color="black", strokeWidth=3).encode(
        x=x_(), y=alt.value(H), y2=alt.value(H + 18))
    ttl = alt.Chart(pd.DataFrame({"t": [title]})).mark_text(
        font=FONT, fontSize=53, color="#111", baseline="middle", align="center").encode(
        x=alt.value(1050), y=alt.value(title_y), text="t:N")
    return alt.layer(base, areas, whites, light, dark, text, box, t1, t2, ttl).properties(width=W, height=H)


def colorbar(title, edges, stops, colors, dom, rng, ticks, H, x0, title_y, unit_x, unit_y, frame_top, over=None, under=None):
    cs = alt.Scale(domain=stops, range=colors, interpolate="rgb", clamp=True)
    ys = alt.Scale(domain=dom, range=rng, nice=False, zero=False)
    cells = pd.DataFrame({"a": edges[:-1], "b": edges[1:], "v": (edges[:-1] + edges[1:]) / 2})
    yaxis = alt.Axis(values=ticks, orient="right", tickSize=18, tickWidth=3, tickColor="black", domain=False, grid=False,
                     labelFont=FONT, labelFontSize=43, labelPadding=16, labelColor="#111", title=None, format="d")

    def y_():
        return alt.Y("a:Q", scale=ys, axis=yaxis)

    bar = alt.Chart(cells).mark_rect().encode(
        x=alt.value(x0), x2=alt.value(x0 + 20), y=y_(), y2="b:Q",
        color=alt.Color("v:Q", scale=cs, legend=None))
    fr = pd.DataFrame({"a": [edges[0]], "b": [frame_top]})
    box = alt.Chart(fr).mark_rect(fillOpacity=0, stroke="black", strokeWidth=3).encode(
        x=alt.value(x0), x2=alt.value(x0 + 20), y=y_(), y2="b:Q")
    ttl = alt.Chart(pd.DataFrame({"t": [title]})).mark_text(
        font=FONT, fontSize=54, fontWeight="bold", color="black", baseline="middle", align="center").encode(
        x=alt.value(x0 + 10), y=alt.value(title_y), text="t:N")
    unit = alt.Chart(pd.DataFrame({"t": ["(J / kg)"]})).mark_text(
        font=FONT, fontSize=48, angle=270, color="#111", baseline="middle", align="center").encode(
        x=alt.value(unit_x), y=alt.value(unit_y), text="t:N")
    layers = [bar]
    if over is not None:
        layers.append(alt.Chart(pd.DataFrame({"a": [1200]})).mark_point(
            shape="M-0.5,0L0,-1.3L0.5,0Z", size=400, filled=True, fill=over, stroke="black", strokeWidth=2.5, opacity=1).encode(
            x=alt.value(x0 + 10), y=y_()))
        layers.append(alt.Chart(pd.DataFrame({"a": [0]})).mark_point(
            shape="M-0.5,0L0,1.1L0.5,0Z", size=400, filled=True, fill=under, stroke="black", strokeWidth=2.5, opacity=1).encode(
            x=alt.value(x0 + 10), y=y_()))
    layers += [box, ttl, unit]
    return alt.layer(*layers).properties(width=24, height=H)


CAPE_EDGES = np.arange(0, 1204, 6.0)
CIN_EDGES = np.arange(-400, 9, 4.0)

top = panel(CAPE_BANDS, CAPE_STOPS, CAPE_FIELD, 0, CAPE_LABELS, "CAPE", -50, H1, False, "#a8a68e", "monotone", 9)

bottom_main = panel(CIN_BANDS, CIN_FIELD_STOPS, CIN_FIELD, -6, CIN_LABELS, "CIN", -48, H2, True, "#a9a9a9", "linear", 6)
notes = pd.DataFrame({
    "t": ["Time from Convergence", "Hours After Convergence", "(Cold Sector)", "Hours Before Convergence", "(Warm Sector)"],
    "px": [1051, 209, 209, 1889, 1889],
    "py": [733, 763, 818, 763, 818],
    "c": ["#111111", "#2222ff", "#2222ff", "#ff2222", "#ff2222"],
    "f": ["Liberation Sans", "DejaVu Sans", "DejaVu Sans", "DejaVu Sans", "DejaVu Sans"],
})
note_layers = []
for f, fs in [("Liberation Sans", 50), ("DejaVu Sans", 50)]:
    note_layers.append(alt.Chart(notes[notes.f == f]).mark_text(font=f, fontSize=fs, baseline="middle", align="center").encode(
        x=alt.X("px:Q", scale=None, axis=None), y=alt.Y("py:Q", scale=None, axis=None), text="t:N",
        color=alt.Color("c:N", scale=None, legend=None)))
bottom = alt.layer(bottom_main, *note_layers).properties(width=W, height=H2)

cape_bar = colorbar("CAPE", CAPE_EDGES, CAPE_STOPS, CAPE_COLORS, [0, 1200], [517, 51], [0, 200, 400, 600, 800, 1000, 1200], H1,
                    0, -21, 214, 279, 1200, over="#4a4a50", under="#fdfdca")
cin_bar = colorbar("CIN", CIN_EDGES, CIN_STOPS, CIN_COLORS, [-400, 0], [540, 39], [0, -100, -200, -300, -400], H2,
                   4, -19, 228, 290, 8)

chart = alt.concat(top, cape_bar, bottom, cin_bar, columns=2, bounds="flush", spacing={"row": 131, "column": 224}).resolve_scale(
    color="independent", stroke="independent", x="independent", y="independent"
).properties(
    padding={"left": 17, "top": 17, "right": 5, "bottom": 5}, background="white"
).configure_view(stroke=None)

chart.save("out.html", embed_options={"renderer": "svg", "actions": False})
